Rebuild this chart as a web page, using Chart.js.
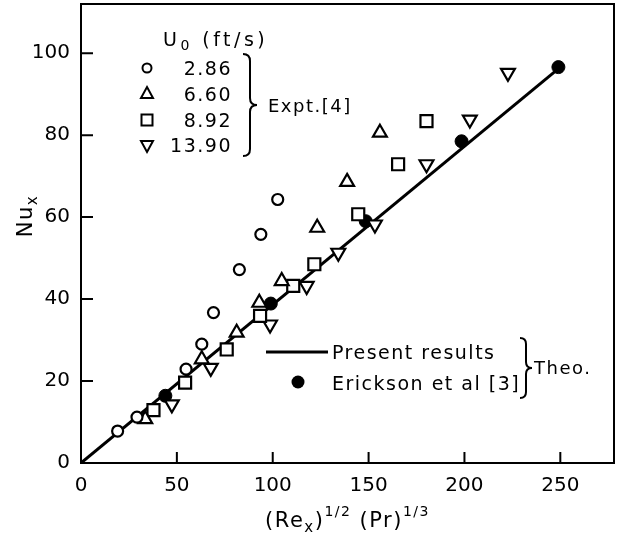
<!DOCTYPE html>
<html>
<head>
<meta charset="utf-8">
<script src="https://cdn.jsdelivr.net/npm/chart.js@4"></script>
<style>
  body { margin: 0; background: #fff; }
  #wrap { width: 622px; height: 533px; }
</style>
</head>
<body>
<div id="wrap"><canvas id="myChart"></canvas></div>
<script>
// Expt.[4], one series per free stream velocity U0 (ft/s)
const u286X = [19.1, 29.2, 54.8, 63.0, 69.1, 82.6, 93.8, 102.6];
const u286Y = [7.8, 11.2, 22.9, 29.0, 36.7, 47.2, 55.8, 64.3];

const u660X = [33.5, 63.0, 81.2, 93.0, 104.7, 123.2, 138.8, 155.9];
const u660Y = [10.7, 25.3, 31.8, 39.1, 44.4, 57.4, 68.6, 80.6];

const u892X = [37.8, 54.3, 76.0, 93.4, 110.7, 121.7, 144.6, 165.4, 180.2];
const u892Y = [12.9, 19.6, 27.7, 35.9, 43.2, 48.5, 60.7, 72.9, 83.4];

const u1390X = [47.4, 67.7, 98.6, 117.7, 134.2, 153.3, 180.2, 202.8, 222.7];
const u1390Y = [14.3, 23.2, 33.8, 43.2, 51.3, 58.2, 72.9, 83.8, 95.2];

// Theo.
const presentX = [0, 250];
const presentY = [0, 96.6];
const ericksonX = [44, 99, 148.5, 198.5, 249];
const ericksonY = [16.4, 38.9, 59.0, 78.5, 96.6];

const xTicks = [0, 50, 100, 150, 200, 250];
const yTicks = [0, 20, 40, 60, 80, 100];

const FONT = '"DejaVu Sans", sans-serif';

function pts(xs, ys) {
    return xs.map((x, i) => ({ x: x, y: ys[i] }));
}

// text made of pieces: [text, size, dy]
function richText(ctx, parts, x, y, align) {
    let w = 0;
    parts.forEach(p => {
        ctx.font = p[1] + 'px ' + FONT;
        w += ctx.measureText(p[0]).width;
    });
    let cx = align === 'center' ? x - w / 2 : x;
    ctx.textAlign = 'left';
    parts.forEach(p => {
        ctx.font = p[1] + 'px ' + FONT;
        ctx.fillText(p[0], cx, y + p[2]);
        cx += ctx.measureText(p[0]).width;
    });
}

function brace(ctx, x, top, bottom, w) {
    const mid = (top + bottom) / 2;
    const h = w / 2;
    ctx.beginPath();
    ctx.moveTo(x, top);
    ctx.quadraticCurveTo(x + h, top, x + h, top + h);
    ctx.lineTo(x + h, mid - h);
    ctx.quadraticCurveTo(x + h, mid, x + w, mid);
    ctx.quadraticCurveTo(x + h, mid, x + h, mid + h);
    ctx.lineTo(x + h, bottom - h);
    ctx.quadraticCurveTo(x + h, bottom, x, bottom);
    ctx.stroke();
}

function marker(ctx, kind, x, y) {
    ctx.beginPath();
    if (kind === 'circle') {
        ctx.arc(x, y, 4.5, 0, Math.PI * 2);
    } else if (kind === 'up') {
        ctx.moveTo(x, y - 7); ctx.lineTo(x + 6, y + 4); ctx.lineTo(x - 6, y + 4); ctx.closePath();
    } else if (kind === 'down') {
        ctx.moveTo(x, y + 7); ctx.lineTo(x + 6, y - 4); ctx.lineTo(x - 6, y - 4); ctx.closePath();
    } else if (kind === 'rect') {
        ctx.rect(x - 5.5, y - 5.5, 11, 11);
    }
    ctx.stroke();
}

const decor = {
    id: 'decor',
    afterDraw(chart) {
        const ctx = chart.ctx;
        const a = chart.chartArea;
        const sx = chart.scales.x, sy = chart.scales.y;
        ctx.save();
        ctx.strokeStyle = '#000';
        ctx.fillStyle = '#000';
        ctx.lineWidth = 2;

        // frame
        ctx.strokeRect(a.left, a.top, a.right - a.left, a.bottom - a.top);

        // inward ticks
        ctx.beginPath();
        xTicks.forEach(v => {
            const px = sx.getPixelForValue(v);
            ctx.moveTo(px, a.bottom); ctx.lineTo(px, a.bottom - 11);
        });
        yTicks.forEach(v => {
            const py = sy.getPixelForValue(v);
            ctx.moveTo(a.left, py); ctx.lineTo(a.left + 12, py);
        });
        ctx.stroke();

        ctx.textBaseline = 'alphabetic';
        ctx.letterSpacing = '1.5px';

        // axis titles
        const cx = (a.left + a.right) / 2;
        richText(ctx, [['(Re', 21, 0], ['x', 15, 5], [')', 21, 0], ['1/2', 14, -11],
            [' (Pr)', 21, 0], ['1/3', 14, -11]], cx, 527, 'center');

        ctx.save();
        ctx.translate(32, 216);
        ctx.rotate(-Math.PI / 2);
        richText(ctx, [['Nu', 21, 0], ['x', 15, 5]], 0, 0, 'center');
        ctx.restore();

        // legend, experiments
        ctx.letterSpacing = '3.5px';
        richText(ctx, [['U', 19, 0], ['0', 14, 4], [' (ft/s)', 19, 0]], 163, 46, 'left');
        ctx.letterSpacing = '1.5px';
        const rows = [['circle', '2.86', 68], ['up', '6.60', 94], ['rect', '8.92', 120], ['down', '13.90', 145]];
        ctx.lineWidth = 2;
        rows.forEach(r => {
            marker(ctx, r[0], 147, r[2]);
            ctx.font = '19px ' + FONT;
            ctx.textAlign = 'right';
            ctx.fillText(r[1], 232, r[2] + 7);
        });
        brace(ctx, 243, 54, 156, 14);
        ctx.textAlign = 'left';
        ctx.font = '18px ' + FONT;
        ctx.fillText('Expt.[4]', 268, 112);

        // legend, theory
        ctx.lineWidth = 3;
        ctx.beginPath();
        ctx.moveTo(266, 352); ctx.lineTo(328, 352);
        ctx.stroke();
        ctx.beginPath();
        ctx.arc(298, 382, 6.5, 0, Math.PI * 2);
        ctx.fill();
        ctx.font = '19px ' + FONT;
        ctx.fillText('Present results', 332, 359);
        ctx.fillText('Erickson et al [3]', 332, 390);
        ctx.lineWidth = 2;
        brace(ctx, 520, 338, 398, 12);
        ctx.font = '18px ' + FONT;
        ctx.fillText('Theo.', 534, 374);

        ctx.restore();
    }
};

const openMarker = {
    borderColor: '#000',
    backgroundColor: '#fff',
    borderWidth: 2.2
};

new Chart(document.getElementById('myChart'), {
    type: 'scatter',
    data: {
        datasets: [
            Object.assign({ label: '2.86', data: pts(u286X, u286Y), pointStyle: 'circle', pointRadius: 5.5 }, openMarker),
            Object.assign({ label: '6.60', data: pts(u660X, u660Y), pointStyle: 'triangle', pointRadius: 8 }, openMarker),
            Object.assign({ label: '8.92', data: pts(u892X, u892Y), pointStyle: 'rect', pointRadius: 8.5 }, openMarker),
            Object.assign({ label: '13.90', data: pts(u1390X, u1390Y), pointStyle: 'triangle', rotation: 180, pointRadius: 8 }, openMarker),
            {
                label: 'Erickson et al [3]',
                data: pts(ericksonX, ericksonY),
                pointStyle: 'circle',
                pointRadius: 6.5,
                backgroundColor: '#000',
                borderColor: '#000'
            },
            {
                label: 'Present results',
                type: 'line',
                data: pts(presentX, presentY),
                borderColor: '#000',
                borderWidth: 3,
                pointRadius: 0,
                fill: false
            }
        ]
    },
    options: {
        responsive: true,
        maintainAspectRatio: false,
        animation: false,
        layout: { padding: { top: 4, right: 8, left: 0, bottom: 0 }, autoPadding: false },
        plugins: { legend: { display: false }, tooltip: { enabled: false } },
        scales: {
            x: {
                type: 'linear',
                min: 0,
                max: 278,
                afterFit: s => { s.height = 70; s.paddingLeft = 0; s.paddingRight = 0; },
                afterBuildTicks: s => { s.ticks = xTicks.map(v => ({ value: v })); },
                grid: { display: false, drawTicks: false },
                border: { display: false },
                ticks: { color: '#000', padding: 11, maxRotation: 0, font: { family: FONT, size: 20 } }
            },
            y: {
                min: 0,
                max: 112,
                afterFit: s => { s.width = 81; s.paddingTop = 0; s.paddingBottom = 0; },
                afterBuildTicks: s => { s.ticks = yTicks.map(v => ({ value: v })); },
                grid: { display: false, drawTicks: false },
                border: { display: false },
                ticks: { color: '#000', padding: 11, font: { family: FONT, size: 20 } }
            }
        }
    },
    plugins: [decor]
});
</script>
</body>
</html>
